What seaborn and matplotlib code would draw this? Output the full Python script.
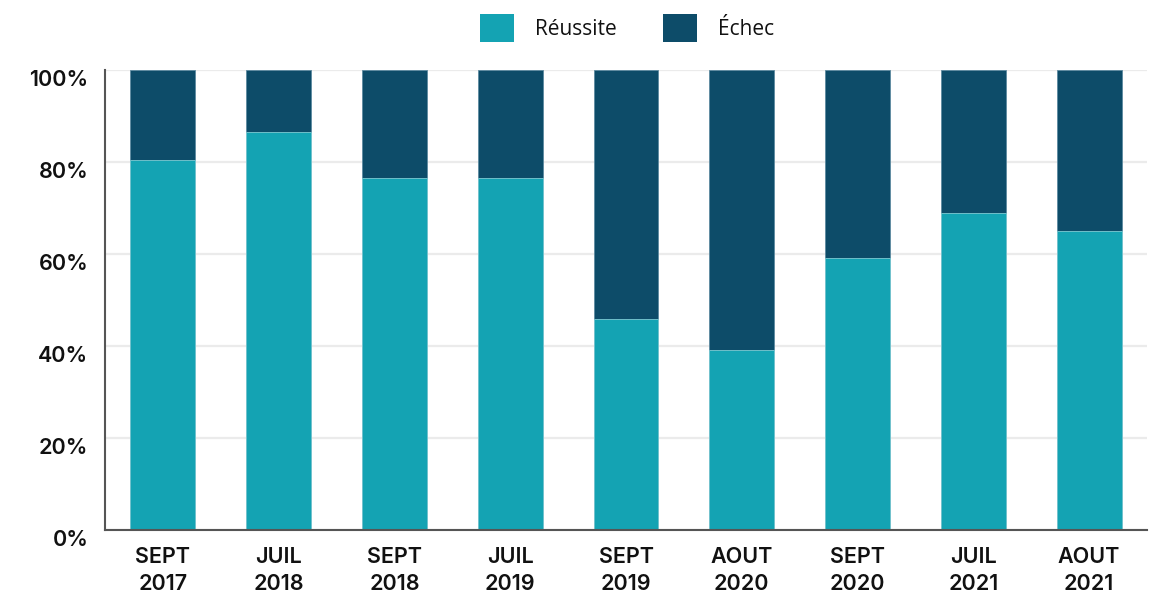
import matplotlib
matplotlib.use("Agg")
import matplotlib.pyplot as plt
from matplotlib.patches import Patch
import seaborn as sns
import numpy as np

periodes = ["SEPT\n2017", "JUIL\n2018", "SEPT\n2018", "JUIL\n2019", "SEPT\n2019",
            "AOUT\n2020", "SEPT\n2020", "JUIL\n2021", "AOUT\n2021"]
reussite = [80.4, 86.5, 76.5, 76.5, 45.9, 39.1, 59.1, 68.9, 65.0]
echec = [19.6, 13.5, 23.5, 23.5, 54.1, 60.9, 40.9, 31.1, 35.0]
yticks = [0, 20, 40, 60, 80, 100]

col_reussite = "#14a3b3"
col_echec = "#0d4c69"

sns.set_theme(style="white")
plt.rcParams["font.family"] = ["Inter", "DejaVu Sans"]

fig = plt.figure(figsize=(11.54, 6.01), dpi=100)
ax = fig.add_axes([105 / 1154, 1 - 530 / 601, (1147 - 105) / 1154, 460 / 601])

total = np.array(reussite) + np.array(echec)
sns.barplot(x=periodes, y=total, color=col_echec, saturation=1, width=0.56,
            edgecolor="#5d8aa0", linewidth=0.6, ax=ax)
sns.barplot(x=periodes, y=reussite, color=col_reussite, saturation=1, width=0.56,
            edgecolor="#7fcbd4", linewidth=0.6, ax=ax)

ax.set_xlim(-0.5, 8.5)
ax.set_ylim(0, 100)
ax.set_yticks(yticks)
ax.set_yticklabels([f"{v}%" for v in yticks])
ax.yaxis.grid(True, color="#ebebeb", linewidth=1.6)
ax.set_axisbelow(True)
ax.set_xlabel("")
ax.set_ylabel("")

for side in ["top", "right"]:
    ax.spines[side].set_visible(False)
for side in ["left", "bottom"]:
    ax.spines[side].set_color("#555555")
    ax.spines[side].set_linewidth(1.5)

ax.tick_params(axis="both", length=0)
ax.tick_params(axis="y", pad=12)
ax.tick_params(axis="x", pad=12)
for lbl in ax.get_xticklabels() + ax.get_yticklabels():
    lbl.set_fontsize(15.5)
    lbl.set_fontweight("semibold")
    lbl.set_color("#111111")
for lbl in ax.get_xticklabels():
    lbl.set_linespacing(1.45)
for lbl in ax.get_yticklabels():
    lbl.set_verticalalignment("top")

handles = [Patch(facecolor=col_reussite, edgecolor="none", label="Réussite"),
           Patch(facecolor=col_echec, edgecolor="none", label="Échec")]
leg = fig.legend(handles=handles, loc="center", bbox_to_anchor=(627 / 1154, 1 - 28 / 601),
                 ncol=2, frameon=False, handlelength=1.65, handleheight=1.65,
                 handletextpad=1.0, columnspacing=2.2,
                 prop={"family": ["Open Sans", "DejaVu Sans"], "size": 15})
for t in leg.get_texts():
    t.set_color("#111111")

fig.savefig("out.png", dpi=100, facecolor="white")
